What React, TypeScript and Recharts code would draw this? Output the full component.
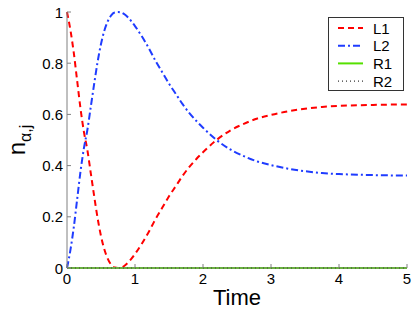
import { LineChart, Line, XAxis, YAxis, Legend } from "recharts";

// time samples (denser where the curves bend fast)
const times = [
  0, 0.05, 0.1, 0.15, 0.2, 0.25, 0.3, 0.35, 0.4, 0.45, 0.5, 0.55, 0.6, 0.65, 0.7, 0.75, 0.8, 0.85, 0.9,
  1.0, 1.1, 1.2, 1.3, 1.4, 1.5, 1.6, 1.7, 1.8, 1.9, 2.0,
  2.2, 2.4, 2.6, 2.8, 3.0,
  3.25, 3.5, 3.75, 4.0, 4.5, 5.0,
];

const l1 = [
  1.0, 0.93, 0.84, 0.73, 0.62, 0.53, 0.46, 0.37, 0.28, 0.195, 0.125, 0.072, 0.036, 0.013, 0.002, 0.0, 0.002, 0.01, 0.022,
  0.055, 0.095, 0.14, 0.19, 0.235, 0.28, 0.32, 0.36, 0.395, 0.425, 0.452,
  0.5, 0.537, 0.563, 0.584, 0.598,
  0.612, 0.622, 0.629, 0.633, 0.637, 0.639,
];

const l2 = [
  0.0, 0.07, 0.16, 0.27, 0.38, 0.47, 0.54, 0.63, 0.72, 0.805, 0.875, 0.928, 0.964, 0.987, 0.998, 1.0, 0.998, 0.99, 0.978,
  0.945, 0.905, 0.86, 0.81, 0.765, 0.72, 0.68, 0.64, 0.605, 0.575, 0.548,
  0.5, 0.463, 0.437, 0.416, 0.402,
  0.388, 0.378, 0.371, 0.367, 0.363, 0.361,
];

const r1 = [
  0, 0, 0, 0, 0, 0, 0, 0, 0, 0, 0, 0, 0, 0, 0, 0, 0, 0, 0,
  0, 0, 0, 0, 0, 0, 0, 0, 0, 0, 0,
  0, 0, 0, 0, 0,
  0, 0, 0, 0, 0, 0,
];

const r2 = [
  0, 0, 0, 0, 0, 0, 0, 0, 0, 0, 0, 0, 0, 0, 0, 0, 0, 0, 0,
  0, 0, 0, 0, 0, 0, 0, 0, 0, 0, 0,
  0, 0, 0, 0, 0,
  0, 0, 0, 0, 0, 0,
];

const xTicks = [0, 1, 2, 3, 4, 5];
const yTicks = [0, 0.2, 0.4, 0.6, 0.8, 1];
const seriesNames = ["L1", "L2", "R1", "R2"];

const data = times.map((t, i) => ({ t, L1: l1[i], L2: l2[i], R1: r1[i], R2: r2[i] }));

const FONT = '"Liberation Sans", Arial, Helvetica, sans-serif';
const AXIS = "#808080";

const styles: Record<string, { stroke: string; dash?: string; width: number }> = {
  L1: { stroke: "#ff0000", dash: "6 4", width: 2 },
  L2: { stroke: "#1f3cff", dash: "7 3 2 3", width: 2 },
  R1: { stroke: "#55e000", width: 2 },
  R2: { stroke: "#000000", dash: "1 3", width: 1 },
};

function BottomTick({ x, y, payload }: any) {
  return (
    <g>
      <line x1={x} y1={y} x2={x} y2={y - 4} stroke={AXIS} />
      <text x={x} y={y + 16} textAnchor="middle" fontSize={15} fontFamily={FONT} fill="#000">
        {payload.value}
      </text>
    </g>
  );
}

function TopTick({ x, y }: any) {
  return <line x1={x} y1={y} x2={x} y2={y + 4} stroke={AXIS} />;
}

function LeftTick({ x, y, payload }: any) {
  return (
    <g>
      <line x1={x} y1={y} x2={x + 4} y2={y} stroke={AXIS} />
      <text x={x - 4} y={y + 5.5} textAnchor="end" fontSize={15} fontFamily={FONT} fill="#000">
        {payload.value}
      </text>
    </g>
  );
}

function RightTick({ x, y }: any) {
  return <line x1={x} y1={y} x2={x - 4} y2={y} stroke={AXIS} />;
}

function YLabel({ viewBox }: any) {
  const cy = viewBox.y + viewBox.height / 2;
  const cx = 25;
  return (
    <text
      x={cx}
      y={cy}
      transform={`rotate(-90, ${cx}, ${cy})`}
      textAnchor="middle"
      fontFamily={FONT}
      fontSize={24}
      fill="#000"
    >
      n
      <tspan fontSize={16} dy={6}>
        α,j
      </tspan>
    </text>
  );
}

function LegendBox() {
  return (
    <svg width={76} height={74} style={{ display: "block" }}>
      <rect x={0.5} y={0.5} width={75} height={73} fill="#fff" stroke="#333" />
      {seriesNames.map((name, i) => {
        const s = styles[name];
        const y = 11 + i * 17.7;
        return (
          <g key={name}>
            <line x1={10} x2={35} y1={y} y2={y} stroke={s.stroke} strokeWidth={s.width} strokeDasharray={s.dash} />
            <text x={45} y={y + 5.5} fontSize={15} fontFamily={FONT} fill="#000">
              {name}
            </text>
          </g>
        );
      })}
    </svg>
  );
}

export default function App() {
  return (
    <div style={{ position: "absolute", left: 0, top: 0, width: 415, height: 313, background: "#fff" }}>
      <LineChart width={415} height={313} data={data} margin={{ top: 12, right: 8, bottom: 0, left: 0 }}>
        <XAxis
          dataKey="t"
          type="number"
          domain={[0, 5]}
          ticks={xTicks}
          interval={0}
          tickSize={0}
          tickMargin={0}
          tickLine={false}
          axisLine={{ stroke: AXIS }}
          tick={<BottomTick />}
          height={45}
          label={{ value: "Time", position: "insideBottom", offset: 8, fontSize: 22, fill: "#000", fontFamily: FONT }}
        />
        <XAxis
          xAxisId="top"
          orientation="top"
          dataKey="t"
          type="number"
          domain={[0, 5]}
          ticks={xTicks}
          interval={0}
          tickSize={0}
          tickMargin={0}
          tickLine={false}
          axisLine={{ stroke: AXIS }}
          tick={<TopTick />}
          height={0}
        />
        <YAxis
          type="number"
          domain={[0, 1]}
          ticks={yTicks}
          interval={0}
          tickSize={0}
          tickMargin={0}
          tickLine={false}
          axisLine={{ stroke: AXIS }}
          tick={<LeftTick />}
          width={67}
          label={(props: any) => <YLabel {...props} />}
        />
        <YAxis
          yAxisId="right"
          orientation="right"
          type="number"
          domain={[0, 1]}
          ticks={yTicks}
          interval={0}
          tickSize={0}
          tickMargin={0}
          tickLine={false}
          axisLine={{ stroke: AXIS }}
          tick={<RightTick />}
          width={0}
        />
        {seriesNames.map((name) => (
          <Line
            key={name}
            dataKey={name}
            type="monotone"
            stroke={styles[name].stroke}
            strokeWidth={styles[name].width}
            strokeDasharray={styles[name].dash}
            dot={false}
            activeDot={false}
            isAnimationActive={false}
          />
        ))}
        <Legend
          layout="vertical"
          align="center"
          verticalAlign="middle"
          content={() => <LegendBox />}
          wrapperStyle={{ left: 328, top: 17, width: 76, height: 74 }}
        />
      </LineChart>
    </div>
  );
}
